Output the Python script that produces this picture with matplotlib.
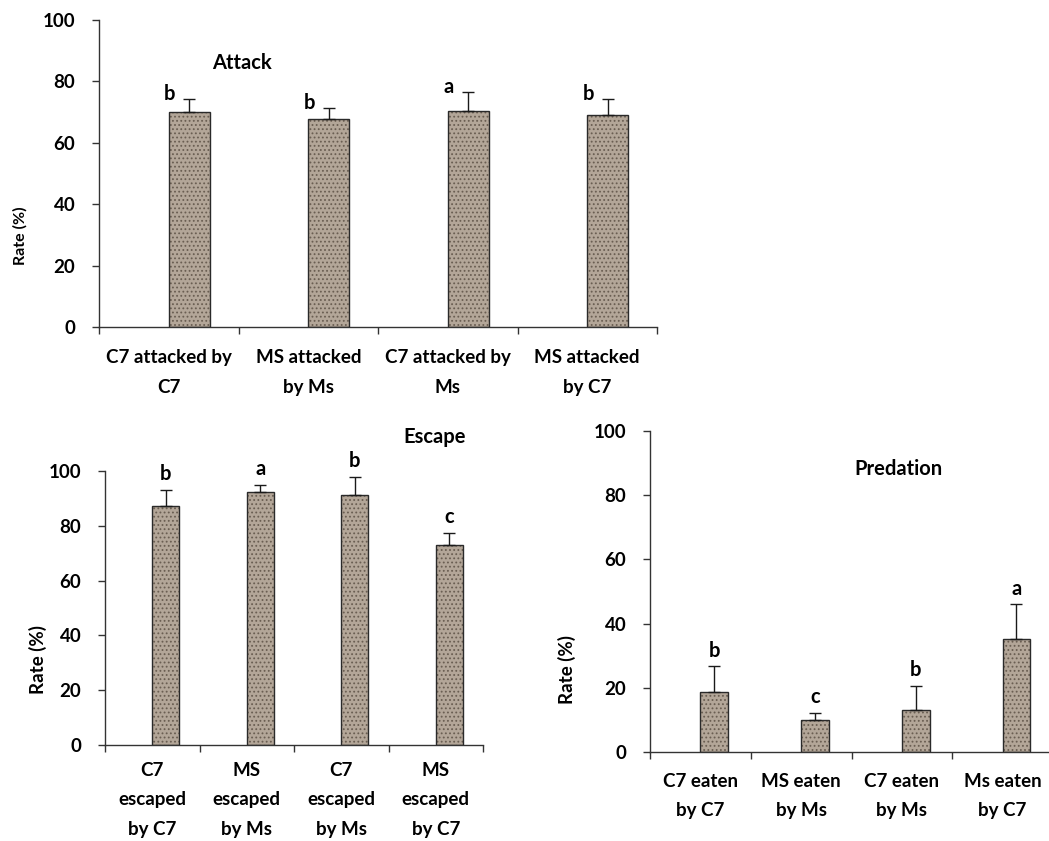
import numpy as np
import matplotlib.pyplot as plt

plt.rcParams['font.family'] = ['Lato', 'DejaVu Sans']
plt.rcParams['font.weight'] = 'bold'
plt.rcParams['hatch.linewidth'] = 0.8

# data
attack_labels = ['C7 attacked by\nC7', 'MS attacked\nby Ms', 'C7 attacked by\nMs', 'MS attacked\nby C7']
attack_vals = [70.0, 67.9, 70.5, 69.2]
attack_err = [4.3, 3.4, 6.2, 5.1]
attack_letters = ['b', 'b', 'a', 'b']

escape_labels = ['C7\nescaped\nby C7', 'MS\nescaped\nby Ms', 'C7\nescaped\nby Ms', 'MS\nescaped\nby C7']
escape_vals = [87.2, 92.2, 91.1, 73.0]
escape_err = [5.9, 2.8, 6.8, 4.3]
escape_letters = ['b', 'a', 'b', 'c']

pred_labels = ['C7 eaten\nby C7', 'MS eaten\nby Ms', 'C7 eaten\nby Ms', 'Ms eaten\nby C7']
pred_vals = [18.7, 10.1, 13.0, 35.1]
pred_err = [8.0, 2.1, 7.5, 10.9]
pred_letters = ['b', 'c', 'b', 'a']

FACE = '#b3a698'
SPECK = '#6a5e52'
LINE = '#333333'
W = 1049.0
H = 841.0
FS = 13.5


def px_axes(fig, left, right, y0, y100):
    return fig.add_axes([left / W, (H - y0) / H, (right - left) / W, (y0 - y100) / H])


def panel(ax, labels, vals, err, letters, bw, letter_off, xpad):
    x = np.arange(len(vals)) + bw / 2
    ax.bar(x, vals, width=bw, color=FACE, edgecolor=SPECK, hatch='....', linewidth=0, zorder=2)
    ax.bar(x, vals, width=bw, color='none', edgecolor='#2a2a2a', linewidth=1.0, zorder=3)
    ax.errorbar(x, vals, yerr=[np.zeros(len(err)), err], fmt='none', ecolor='#1a1a1a',
                elinewidth=1.0, capsize=4, capthick=1.0, zorder=4)
    for xi, v, e, t in zip(x, vals, err, letters):
        ax.annotate(t, (xi, v + e), xytext=letter_off, textcoords='offset points',
                    ha='center', va='baseline', fontsize=14.5, fontweight='bold')
    ax.set_xlim(-0.5, len(vals) - 0.5)
    ax.set_ylim(0, 100)
    ax.set_yticks([0, 20, 40, 60, 80, 100])
    ax.set_xticks(range(len(vals)))
    ax.set_xticklabels(labels)
    ax.set_xticks(np.arange(len(vals) + 1) - 0.5, minor=True)
    ax.tick_params(axis='x', which='major', length=0, labelsize=FS, pad=xpad)
    ax.tick_params(axis='x', which='minor', length=5, width=1, direction='out', color=LINE)
    ax.tick_params(axis='y', length=5, width=1, direction='out', labelsize=FS, pad=12, color=LINE)
    for s in ['top', 'right']:
        ax.spines[s].set_visible(False)
    for s in ['left', 'bottom']:
        ax.spines[s].set_color(LINE)
        ax.spines[s].set_linewidth(1.0)
    for lab in ax.get_xticklabels():
        lab.set_linespacing(1.9)
        lab.set_fontweight('bold')
    for lab in ax.get_yticklabels():
        lab.set_fontweight('bold')


fig = plt.figure(figsize=(W / 100, H / 100), dpi=100)

ax1 = px_axes(fig, 99, 657, 327, 20)
panel(ax1, attack_labels, attack_vals, attack_err, attack_letters, 0.294, (-14, -1), 16)
ax1.text(0.525, 86, 'Attack', ha='center', va='center', fontsize=14.5, fontweight='bold')
fig.text(20 / W, 1 - 236 / H, 'Rate (%)', rotation=90, ha='center', va='center',
         fontsize=11.5, fontweight='bold')

ax2 = px_axes(fig, 105, 483, 745, 471)
panel(ax2, escape_labels, escape_vals, escape_err, escape_letters, 0.286, (0, 7), 12)
ax2.text(2.99, 112.4, 'Escape', ha='center', va='center', fontsize=14.5, fontweight='bold')
fig.text(38 / W, 1 - 660 / H, 'Rate (%)', rotation=90, ha='center', va='center',
         fontsize=13.5, fontweight='bold')

ax3 = px_axes(fig, 650, 1053, 752, 431)
panel(ax3, pred_labels, pred_vals, pred_err, pred_letters, 0.275, (0, 7), 15)
ax3.text(1.97, 88.2, 'Predation', ha='center', va='center', fontsize=14.5, fontweight='bold')
fig.text(567 / W, 1 - 670 / H, 'Rate (%)', rotation=90, ha='center', va='center',
         fontsize=13.5, fontweight='bold')

fig.savefig('out.png', dpi=100)
